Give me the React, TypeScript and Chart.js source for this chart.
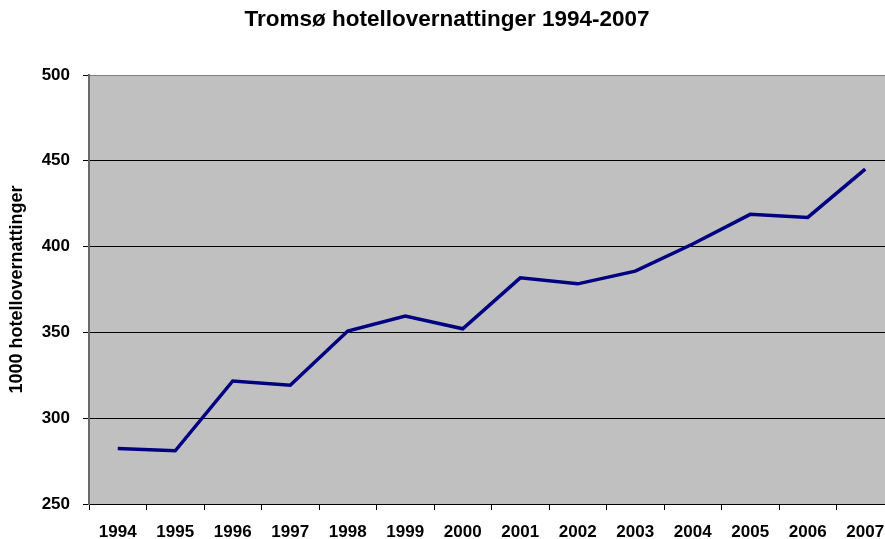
import React, { useEffect, useRef } from "react";
import { Chart, registerables } from "chart.js";

Chart.register(...registerables);

const years = ["1994","1995","1996","1997","1998","1999","2000","2001","2002","2003","2004","2005","2006","2007"];
const overnattinger = [282.4, 281.0, 321.7, 319.2, 350.8, 359.5, 352.1, 381.8, 378.3, 385.7, 401.5, 418.8, 417.0, 445.2];
const yTicks = [250, 300, 350, 400, 450, 500];

const FONT = "'Liberation Sans', Arial, sans-serif";

const plotBg = {
  id: "plotBg",
  beforeDraw(chart: any) {
    const { ctx, chartArea } = chart;
    if (!chartArea) return;
    ctx.save();
    ctx.fillStyle = "#C0C0C0";
    ctx.fillRect(chartArea.left, chartArea.top, chartArea.right - chartArea.left, chartArea.bottom - chartArea.top);
    ctx.restore();
  },
};

export default function App() {
  const ref = useRef<HTMLCanvasElement | null>(null);
  useEffect(() => {
    if (!ref.current) return;
    const chart = new Chart(ref.current, {
      type: "line",
      data: {
        labels: years,
        datasets: [
          {
            label: "1000 hotellovernattinger",
            data: overnattinger,
            borderColor: "#000080",
            backgroundColor: "#000080",
            borderWidth: 3.5,
            pointRadius: 0,
            tension: 0,
            fill: false,
          },
        ],
      },
      options: {
        animation: false,
        responsive: false,
        devicePixelRatio: 1,
        layout: { padding: { left: 0, right: 6, top: 0, bottom: 0 } },
        plugins: {
          legend: { display: false },
          tooltip: { enabled: false },
          title: {
            display: true,
            text: "Tromsø hotellovernattinger 1994-2007",
            color: "#000",
            font: { family: FONT, size: 22.5, weight: "bold" },
            padding: { top: 6.5, bottom: 41.5 },
          },
        },
        scales: {
          x: {
            type: "category",
            offset: true,
            grid: {
              display: true,
              offset: true,
              drawOnChartArea: false,
              drawTicks: true,
              tickLength: 6,
              tickColor: "#000",
            },
            border: { display: true, color: "#000", width: 1 },
            ticks: {
              color: "#000",
              font: { family: FONT, size: 17, weight: "bold" },
              padding: 12,
              maxRotation: 0,
              autoSkip: false,
            },
            afterFit: (scale: any) => {
              scale.height = 35;
            },
          },
          y: {
            type: "linear",
            min: 250,
            max: 500,
            afterBuildTicks: (scale: any) => {
              scale.ticks = yTicks.map((v) => ({ value: v }));
            },
            grid: {
              color: (c: any) => (c.tick && c.tick.value === 500 ? "#808080" : "#000"),
              lineWidth: 1,
              tickLength: 6,
              tickColor: "#000",
            },
            border: { display: true, color: "#6a6a6a", width: 2 },
            ticks: {
              color: "#000",
              font: { family: FONT, size: 17, weight: "bold" },
              padding: 13,
            },
            title: {
              display: true,
              text: "1000 hotellovernattinger",
              color: "#000",
              font: { family: FONT, size: 18, weight: "bold" },
              padding: { top: 6.5, bottom: 0 },
            },
            afterFit: (scale: any) => {
              scale.width = 89;
            },
          },
        },
      },
      plugins: [plotBg],
    });
    return () => chart.destroy();
  }, []);

  return (
    <div
      style={{
        position: "fixed",
        left: 0,
        top: 0,
        width: 885,
        height: 539,
        overflow: "hidden",
        background: "#fff",
      }}
    >
      <canvas ref={ref} width={900} height={539} style={{ width: 900, height: 539, display: "block" }} />
    </div>
  );
}
